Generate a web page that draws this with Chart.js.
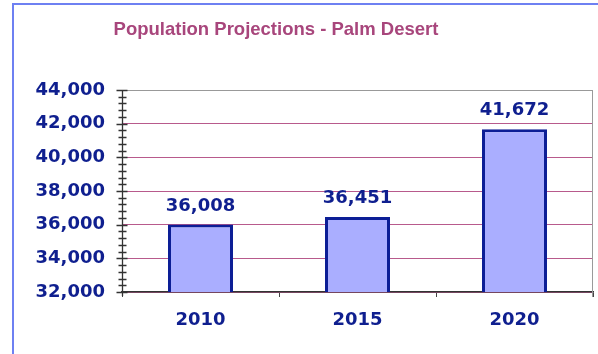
<!DOCTYPE html>
<html><head><meta charset="utf-8">
<script src="https://cdn.jsdelivr.net/npm/chart.js@4/dist/chart.umd.min.js"></script>
<style>
html,body{margin:0;padding:0;background:#fff;overflow:hidden;}
canvas{display:block;}
</style></head><body>
<canvas id="c" width="598" height="354"></canvas>
<script>
const chartTitle = 'Population Projections - Palm Desert';
const categories = ['2010', '2015', '2020'];
const population = [36008, 36451, 41672];
const yMin = 32000, yMax = 44000, yMajorStep = 2000, yMinorStep = 400;

const NAVY = '#0f1f8f';
const numFont = {family: '"DejaVu Sans", sans-serif', size: 18, weight: 'bold'};
const fmt = v => Number(v).toLocaleString('en-US');

const decor = {
  id: 'decor',
  beforeDraw(chart) {
    const ctx = chart.ctx;
    ctx.save();
    ctx.strokeStyle = '#6e80f2';
    ctx.lineWidth = 2;
    ctx.beginPath();
    ctx.moveTo(13, chart.height + 5);
    ctx.lineTo(13, 4);
    ctx.lineTo(chart.width + 5, 4);
    ctx.stroke();
    ctx.restore();
  },
  afterDraw(chart) {
    const ctx = chart.ctx, a = chart.chartArea;
    const ys = chart.scales.y;
    ctx.save();
    // title
    ctx.font = 'bold 18.5px "Liberation Sans", Arial, sans-serif';
    ctx.fillStyle = '#a8467c';
    ctx.textAlign = 'center';
    ctx.textBaseline = 'alphabetic';
    ctx.fillText(chartTitle, 276, 35);
    // right border of plot
    ctx.strokeStyle = '#9a9a9a';
    ctx.lineWidth = 1;
    ctx.beginPath();
    ctx.moveTo(Math.round(a.right) - 0.5, a.top);
    ctx.lineTo(Math.round(a.right) - 0.5, a.bottom + 5);
    ctx.stroke();
    // y axis line and crossing ticks
    const ax = Math.round(a.left) + 0.5;
    ctx.strokeStyle = '#333';
    ctx.lineWidth = 1.3;
    ctx.beginPath();
    ctx.moveTo(ax, a.top);
    ctx.lineTo(ax, a.bottom + 4);
    for (let v = yMin; v <= yMax; v += yMinorStep) {
      const py = Math.round(ys.getPixelForValue(v)) + 0.5;
      const major = v % yMajorStep === 0;
      ctx.moveTo(ax - (major ? 6 : 4), py);
      ctx.lineTo(ax + (major ? 5 : 4), py);
    }
    ctx.stroke();
    // data labels
    ctx.font = 'bold 18px "DejaVu Sans", sans-serif';
    ctx.fillStyle = NAVY;
    ctx.textAlign = 'center';
    chart.getDatasetMeta(0).data.forEach((bar, i) => {
      ctx.fillText(fmt(population[i]), bar.x, bar.y - 14);
    });
    ctx.restore();
  }
};

new Chart(document.getElementById('c'), {
  type: 'bar',
  data: {
    labels: categories,
    datasets: [{
      data: population,
      backgroundColor: '#aaaeff',
      borderColor: '#0c1e96',
      borderWidth: 3,
      borderSkipped: false,
      barPercentage: 0.414,
      categoryPercentage: 1
    }]
  },
  options: {
    responsive: false,
    animation: false,
    devicePixelRatio: 1,
    layout: {padding: {top: 90, right: 5, left: 0, bottom: 0}},
    plugins: {legend: {display: false}, title: {display: false}, tooltip: {enabled: false}},
    scales: {
      x: {
        offset: true,
        afterFit(s) { s.height = 62; },
        grid: {offset: true, drawOnChartArea: false, tickLength: 5, color: '#444'},
        border: {color: '#333', width: 1.5},
        ticks: {color: NAVY, font: numFont, padding: 13}
      },
      y: {
        min: yMin, max: yMax,
        afterFit(s) { s.width = 122; },
        grid: {
          drawTicks: false,
          color: c => c.tick && c.tick.value === yMax ? '#999' :
                 (c.tick && c.tick.value % yMajorStep === 0 ? '#b85a8c' : 'rgba(0,0,0,0)'),
          lineWidth: 1
        },
        border: {display: false},
        ticks: {
          stepSize: yMinorStep, autoSkip: false, padding: 17,
          color: NAVY, font: numFont,
          callback: v => (v % yMajorStep === 0 ? fmt(v) : '')
        }
      }
    }
  },
  plugins: [decor]
});
</script>
</body></html>
